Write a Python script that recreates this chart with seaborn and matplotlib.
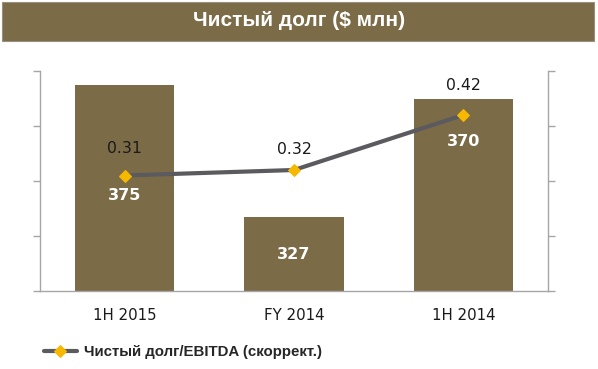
import numpy as np
import pandas as pd
import matplotlib
matplotlib.use("Agg")
import matplotlib.pyplot as plt
from matplotlib.patches import Rectangle
from matplotlib.ticker import FixedLocator
import seaborn as sns

categories = ["1H 2015", "FY 2014", "1H 2014"]
net_debt = [375, 327, 370]
ratio = [0.31, 0.32, 0.42]
ratio_labels = ["0.31", "0.32", "0.42"]
title = "Чистый долг ($ млн)"
legend_label = "Чистый долг/EBITDA (скоррект.)"

OLIVE = "#7b6b47"
GRAY_LINE = "#5b5b5f"
GOLD = "#f7b800"
SPINE = "#a6a6a6"

sns.set_style("white")
plt.rcParams["font.family"] = ["DejaVu Sans"]

fig = plt.figure(figsize=(5.98, 3.69), dpi=100)
W, H = 598, 369

# Title banner
fig.patches.append(Rectangle((2 / W, 1 - 41 / H), 592 / W, 39 / H,
                             transform=fig.transFigure, facecolor=OLIVE,
                             edgecolor="#9a9080", linewidth=0.8))
fig.text(0.5, 1 - 21 / H, title, ha="center", va="center", color="white",
         fontsize=15, fontweight="bold", family=["Liberation Sans"])

ax = fig.add_axes([40 / W, 78 / H, 508 / W, 220 / H])
df = pd.DataFrame({"cat": categories, "debt": net_debt})
sns.barplot(data=df, x="cat", y="debt", color=OLIVE, saturation=1,
            width=0.585, ax=ax)
for p in ax.patches:
    p.set_edgecolor("none")
ax.set_ylim(300, 380)
ax.set_xlim(-0.5, 2.5)
ax.set_yticks(np.arange(300, 381, 20))
ax.set_yticklabels([])
ax.set_xlabel("")
ax.set_ylabel("")
ax.tick_params(axis="x", length=0, labelsize=10.8, pad=12, colors="#1a1a1a")
ax.xaxis.set_minor_locator(FixedLocator([-0.5, 0.5, 1.5, 2.5]))
ax.tick_params(axis="x", which="minor", length=5, color=SPINE, width=1)
ax.tick_params(axis="y", length=5, color=SPINE, width=1, left=True)
for s in ["left", "bottom"]:
    ax.spines[s].set_color(SPINE)
    ax.spines[s].set_linewidth(1)
ax.spines["top"].set_visible(False)
ax.spines["right"].set_visible(False)

ax2 = ax.twinx()
xpos = np.arange(len(categories))
sns.lineplot(x=xpos, y=ratio, ax=ax2, color=GRAY_LINE, linewidth=3,
             marker="D", markersize=6.5, markerfacecolor=GOLD,
             markeredgecolor=GOLD, label=legend_label, legend=False)
ax2.set_ylim(0.1, 0.5)
ax2.set_xlim(-0.5, 2.5)
ax2.set_yticks(np.arange(0.1, 0.51, 0.1))
ax2.set_yticklabels([])
ax2.tick_params(axis="y", length=5, color=SPINE, width=1, right=True)
ax2.spines["right"].set_color(SPINE)
ax2.spines["right"].set_linewidth(1)
for s in ["left", "bottom", "top"]:
    ax2.spines[s].set_visible(False)
ax2.set_ylabel("")

# Ratio labels above markers
ratio_offsets = [27, 20, 29]
for x, v, lab, off in zip(xpos, ratio, ratio_labels, ratio_offsets):
    ax2.annotate(lab, (x, v), xytext=(0, off * 0.72), textcoords="offset points",
                 ha="center", va="center", fontsize=11.3, color="#1a1a1a")

# Bar labels
bar_offsets = [111, 38, 43]
for x, v, off in zip(xpos, net_debt, bar_offsets):
    ax.annotate(str(v), (x, v), xytext=(0, -off * 0.72), textcoords="offset points",
                ha="center", va="center", fontsize=11.5, fontweight="bold",
                color="white")

handles, labels = ax2.get_legend_handles_labels()
leg = fig.legend(handles, labels, loc="center left",
                 bbox_to_anchor=(30 / W, 1 - 352 / H), frameon=False,
                 handlelength=2.2, handletextpad=0.5,
                 prop={"family": "Liberation Sans", "weight": "bold", "size": 10.8})

fig.savefig("out.png", dpi=100)
